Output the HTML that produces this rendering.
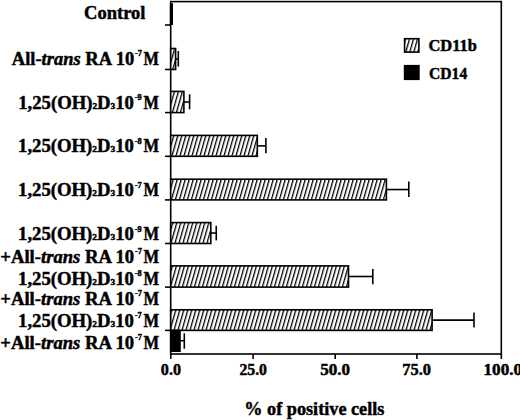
<!DOCTYPE html>
<html><head><meta charset="utf-8"><style>
html,body{margin:0;padding:0;background:#fff;width:520px;height:420px;overflow:hidden}
svg{display:block}
text{font-family:"Liberation Serif",serif;font-weight:bold;fill:#000;stroke:#000;stroke-width:0.45px;stroke-linejoin:round}
</style></head><body>
<svg width="520" height="420" viewBox="0 0 520 420">
<defs>
<pattern id="h" patternUnits="userSpaceOnUse" width="4.0" height="40" patternTransform="skewX(-16)">
<rect x="0" y="0" width="4.0" height="40" fill="#fff"/>
<rect x="0" y="0" width="1.35" height="40" fill="#000"/>
</pattern>
</defs>

<rect x="170.7" y="1.6" width="330.6" height="352.4" fill="none" stroke="#000" stroke-width="1.6"/>
<line x1="165" y1="25.0" x2="170.7" y2="25.0" stroke="#000" stroke-width="1.6"/>
<line x1="165" y1="69.5" x2="170.7" y2="69.5" stroke="#000" stroke-width="1.6"/>
<line x1="165" y1="112.6" x2="170.7" y2="112.6" stroke="#000" stroke-width="1.6"/>
<line x1="165" y1="156.3" x2="170.7" y2="156.3" stroke="#000" stroke-width="1.6"/>
<line x1="165" y1="199.9" x2="170.7" y2="199.9" stroke="#000" stroke-width="1.6"/>
<line x1="165" y1="243.5" x2="170.7" y2="243.5" stroke="#000" stroke-width="1.6"/>
<line x1="165" y1="287.1" x2="170.7" y2="287.1" stroke="#000" stroke-width="1.6"/>
<line x1="165" y1="330.4" x2="170.7" y2="330.4" stroke="#000" stroke-width="1.6"/>
<line x1="170.80" y1="354.0" x2="170.80" y2="359" stroke="#000" stroke-width="1.6"/>
<line x1="253.10" y1="354.0" x2="253.10" y2="359" stroke="#000" stroke-width="1.6"/>
<line x1="335.20" y1="354.0" x2="335.20" y2="359" stroke="#000" stroke-width="1.6"/>
<line x1="416.90" y1="354.0" x2="416.90" y2="359" stroke="#000" stroke-width="1.6"/>
<line x1="501.30" y1="354.0" x2="501.30" y2="359" stroke="#000" stroke-width="1.6"/>
<rect x="169.8" y="3.2" width="3.2" height="21.8" fill="#000"/>
<rect x="170.7" y="48.5" width="4.90" height="21.00" fill="url(#h)" stroke="#000" stroke-width="1.6"/>
<line x1="175.6" y1="59.00" x2="178.3" y2="59.00" stroke="#000" stroke-width="1.6"/>
<line x1="178.3" y1="51.0" x2="178.3" y2="66.6" stroke="#000" stroke-width="1.6"/>
<rect x="170.7" y="91.4" width="13.20" height="21.20" fill="url(#h)" stroke="#000" stroke-width="1.6"/>
<line x1="183.9" y1="102.00" x2="189.6" y2="102.00" stroke="#000" stroke-width="1.6"/>
<line x1="189.6" y1="94.3" x2="189.6" y2="109.3" stroke="#000" stroke-width="1.6"/>
<rect x="170.7" y="135.4" width="86.60" height="20.90" fill="url(#h)" stroke="#000" stroke-width="1.6"/>
<line x1="257.3" y1="145.85" x2="265.9" y2="145.85" stroke="#000" stroke-width="1.6"/>
<line x1="265.9" y1="138.0" x2="265.9" y2="153.2" stroke="#000" stroke-width="1.6"/>
<rect x="170.7" y="179.2" width="215.70" height="20.70" fill="url(#h)" stroke="#000" stroke-width="1.6"/>
<line x1="386.4" y1="189.55" x2="408.8" y2="189.55" stroke="#000" stroke-width="1.6"/>
<line x1="408.8" y1="181.6" x2="408.8" y2="197.1" stroke="#000" stroke-width="1.6"/>
<rect x="170.7" y="222.6" width="40.10" height="20.90" fill="url(#h)" stroke="#000" stroke-width="1.6"/>
<line x1="210.8" y1="233.05" x2="216.25" y2="233.05" stroke="#000" stroke-width="1.6"/>
<line x1="216.25" y1="225.8" x2="216.25" y2="240.4" stroke="#000" stroke-width="1.6"/>
<rect x="170.7" y="265.9" width="177.80" height="21.20" fill="url(#h)" stroke="#000" stroke-width="1.6"/>
<line x1="348.5" y1="276.50" x2="372.8" y2="276.50" stroke="#000" stroke-width="1.6"/>
<line x1="372.8" y1="269.0" x2="372.8" y2="284.3" stroke="#000" stroke-width="1.6"/>
<rect x="170.7" y="309.8" width="261.40" height="20.60" fill="url(#h)" stroke="#000" stroke-width="1.6"/>
<line x1="432.1" y1="320.10" x2="474.0" y2="320.10" stroke="#000" stroke-width="1.6"/>
<line x1="474.0" y1="312.5" x2="474.0" y2="327.5" stroke="#000" stroke-width="1.6"/>
<rect x="170.7" y="330.4" width="9.30" height="20.85" fill="#000" stroke="#000" stroke-width="1.6"/>
<line x1="180" y1="340.7" x2="184.3" y2="340.7" stroke="#000" stroke-width="1.6"/>
<line x1="184.3" y1="333.3" x2="184.3" y2="348.75" stroke="#000" stroke-width="1.6"/>
<rect x="404.6" y="38.7" width="14.3" height="13.4" fill="url(#h)" stroke="#000" stroke-width="1.6"/>
<rect x="404.6" y="65.7" width="14.3" height="13.6" fill="#000" stroke="#000" stroke-width="1.6"/>
<text id="Control" x="84.00" y="19.30" font-size="18" textLength="61.50" lengthAdjust="spacingAndGlyphs">Control</text>
<text id="RA" x="11.80" y="64.90" font-size="18" textLength="130.08" lengthAdjust="spacingAndGlyphs">All-<tspan font-style="italic">trans</tspan> RA 10<tspan font-size="8" dy="-8.6" dx="0.8">-7</tspan></text>
<text id="RAM" x="143.57" y="64.90" font-size="18" textLength="15.42" lengthAdjust="spacingAndGlyphs">M</text>
<text id="D9" x="18.29" y="108.90" font-size="18" textLength="123.40" lengthAdjust="spacingAndGlyphs">1,25(OH)<tspan font-size="9">2</tspan>D<tspan font-size="9">3</tspan>10<tspan font-size="8" dy="-8.6" dx="0.8">-9</tspan></text>
<text id="D9M" x="143.57" y="108.90" font-size="18" textLength="15.40" lengthAdjust="spacingAndGlyphs">M</text>
<text id="D8" x="18.09" y="152.20" font-size="18" textLength="123.59" lengthAdjust="spacingAndGlyphs">1,25(OH)<tspan font-size="9">2</tspan>D<tspan font-size="9">3</tspan>10<tspan font-size="8" dy="-8.6" dx="0.8">-8</tspan></text>
<text id="D8M" x="143.56" y="152.20" font-size="18" textLength="15.62" lengthAdjust="spacingAndGlyphs">M</text>
<text id="D7" x="18.09" y="196.10" font-size="18" textLength="123.59" lengthAdjust="spacingAndGlyphs">1,25(OH)<tspan font-size="9">2</tspan>D<tspan font-size="9">3</tspan>10<tspan font-size="8" dy="-8.6" dx="0.8">-7</tspan></text>
<text id="D7M" x="143.56" y="196.10" font-size="18" textLength="15.62" lengthAdjust="spacingAndGlyphs">M</text>
<text id="G6a" x="18.09" y="240.10" font-size="18" textLength="123.59" lengthAdjust="spacingAndGlyphs">1,25(OH)<tspan font-size="9">2</tspan>D<tspan font-size="9">3</tspan>10<tspan font-size="8" dy="-8.6" dx="0.8">-9</tspan></text>
<text id="G6aM" x="143.56" y="240.10" font-size="18" textLength="15.62" lengthAdjust="spacingAndGlyphs">M</text>
<text id="G6b" x="0.32" y="262.60" font-size="18" textLength="141.56" lengthAdjust="spacingAndGlyphs">+All-<tspan font-style="italic">trans</tspan> RA 10<tspan font-size="8" dy="-8.6" dx="0.8">-7</tspan></text>
<text id="G6bM" x="143.56" y="262.60" font-size="18" textLength="15.62" lengthAdjust="spacingAndGlyphs">M</text>
<text id="G7a" x="18.09" y="284.90" font-size="18" textLength="123.59" lengthAdjust="spacingAndGlyphs">1,25(OH)<tspan font-size="9">2</tspan>D<tspan font-size="9">3</tspan>10<tspan font-size="8" dy="-8.6" dx="0.8">-8</tspan></text>
<text id="G7aM" x="143.56" y="284.90" font-size="18" textLength="15.62" lengthAdjust="spacingAndGlyphs">M</text>
<text id="G7b" x="0.32" y="304.55" font-size="18" textLength="141.56" lengthAdjust="spacingAndGlyphs">+All-<tspan font-style="italic">trans</tspan> RA 10<tspan font-size="8" dy="-8.6" dx="0.8">-7</tspan></text>
<text id="G7bM" x="143.56" y="304.55" font-size="18" textLength="15.62" lengthAdjust="spacingAndGlyphs">M</text>
<text id="G8a" x="18.09" y="326.90" font-size="18" textLength="123.59" lengthAdjust="spacingAndGlyphs">1,25(OH)<tspan font-size="9">2</tspan>D<tspan font-size="9">3</tspan>10<tspan font-size="8" dy="-8.6" dx="0.8">-7</tspan></text>
<text id="G8aM" x="143.56" y="326.90" font-size="18" textLength="15.62" lengthAdjust="spacingAndGlyphs">M</text>
<text id="G8b" x="0.32" y="348.80" font-size="18" textLength="141.56" lengthAdjust="spacingAndGlyphs">+All-<tspan font-style="italic">trans</tspan> RA 10<tspan font-size="8" dy="-8.6" dx="0.8">-7</tspan></text>
<text id="G8bM" x="143.56" y="348.80" font-size="18" textLength="15.62" lengthAdjust="spacingAndGlyphs">M</text>
<text id="x0" x="160.80" y="375.30" font-size="16" textLength="20.22" lengthAdjust="spacingAndGlyphs">0.0</text>
<text id="x25" x="239.39" y="375.30" font-size="16" textLength="27.61" lengthAdjust="spacingAndGlyphs">25.0</text>
<text id="x50" x="320.15" y="375.30" font-size="16" textLength="29.88" lengthAdjust="spacingAndGlyphs">50.0</text>
<text id="x75" x="402.37" y="375.30" font-size="16" textLength="28.66" lengthAdjust="spacingAndGlyphs">75.0</text>
<text id="x100" x="483.53" y="375.30" font-size="16" textLength="38.50" lengthAdjust="spacingAndGlyphs">100.0</text>
<text id="xt" x="244.30" y="414.60" font-size="18" textLength="140.10" lengthAdjust="spacingAndGlyphs">% of positive cells</text>
<text id="lg1" x="428.44" y="50.60" font-size="16" textLength="48.36" lengthAdjust="spacingAndGlyphs">CD11b</text>
<text id="lg2" x="429.10" y="78.50" font-size="16" textLength="38.11" lengthAdjust="spacingAndGlyphs">CD14</text>
</svg></body></html>
